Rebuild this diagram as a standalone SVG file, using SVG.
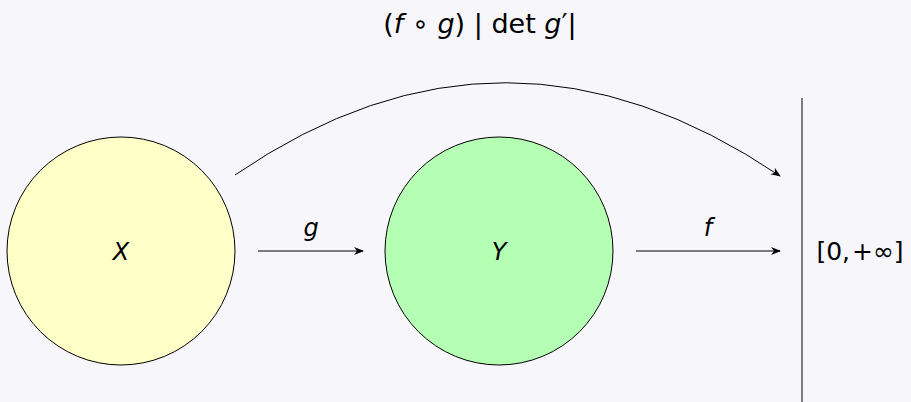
<svg xmlns="http://www.w3.org/2000/svg" width="911" height="402" viewBox="0 0 911 402">
<defs>
<marker id="ah" viewBox="0 0 10 10" refX="9" refY="5" markerWidth="10" markerHeight="10" markerUnits="userSpaceOnUse" orient="auto">
<path d="M0,1 L10,5 L0,9 L3,5 Z" fill="#000"/>
</marker>
</defs>
<style>
.node{stroke:#000;stroke-width:1}
.lbl{font-family:"DejaVu Sans","Open Sans",sans-serif;font-style:italic;font-size:24px;fill:#000}
.edge{fill:none;stroke:#000;stroke-width:1;marker-end:url(#ah)}
</style>
<rect width="911" height="402" fill="#f7f7fb"/>
<g id="X"><circle class="node" cx="121" cy="251" r="114" fill="#ffffc8"/><text class="lbl" x="121" y="260" text-anchor="middle">X</text></g>
<g id="Y"><circle class="node" cx="499" cy="251" r="114" fill="#b4ffb4"/><text class="lbl" x="499" y="260" text-anchor="middle">Y</text></g>
<g id="target"><line x1="802" y1="98" x2="802" y2="402" stroke="#000" stroke-width="1"/><text x="860" y="260" text-anchor="middle" font-family="DejaVu Sans, sans-serif" font-size="25" fill="#000">[0,<tspan dx="2">+∞]</tspan></text></g>
<g id="connectors">
<path class="edge" d="M258,251 L363,251"/>
<path class="edge" d="M636,251 L780,251"/>
<path class="edge" d="M235,175 Q505,-10 780,176"/>
<text class="lbl" x="311" y="236" text-anchor="middle">g</text>
<text class="lbl" x="708" y="236" text-anchor="middle">f</text>
<text x="480" y="33" text-anchor="middle" font-family="DejaVu Sans, sans-serif" font-size="27" fill="#000">(<tspan font-style="italic">f</tspan> ∘ <tspan font-style="italic">g</tspan>) | det <tspan font-style="italic">g</tspan>′|</text>
</g>
</svg>
